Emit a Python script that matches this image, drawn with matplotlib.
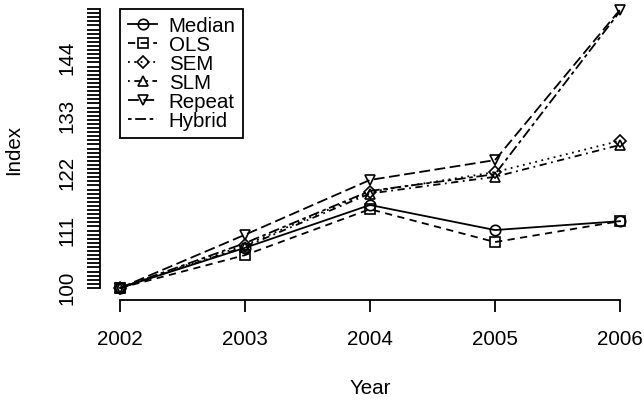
# Indices por metodo, 2002-2006
import matplotlib
matplotlib.use("Agg")
import matplotlib.pyplot as plt
import numpy as np

# Datos
years = [2002, 2003, 2004, 2005, 2006]
median = [100, 107.7, 115.9, 111.1, 112.8]
ols = [100, 106.3, 115.1, 108.8, 112.8]
sem = [100, 108.2, 118.4, 122.2, 128.2]
slm = [100, 107.9, 118.1, 121.3, 127.4]
repeat = [100, 110.2, 120.7, 124.5, 153.3]
hybrid = [100, 108.6, 118.6, 121.8, 153.0]

series_names = ["Median", "OLS", "SEM", "SLM", "Repeat", "Hybrid"]
ytick_labels = [100, 111, 122, 133, 144]

plt.rcParams["font.family"] = ["Liberation Sans", "DejaVu Sans"]
plt.rcParams["font.size"] = 14.8

fig = plt.figure(figsize=(6.44, 4.03), dpi=100)
ax = fig.add_axes([100 / 644, 103 / 403, 540 / 644, 300 / 403])

lw = 1.3
# estilos tipo R: lty 1..6 y pch 1, 0, 5, 2, 6
estilos = [
    ("-", "o", 7.5),
    ((0, (4, 3)), "s", 6.5),
    ((0, (1, 2.5)), "D", 6.0),
    ((0, (1, 2.5, 4, 2.5)), "^", 7.5),
    ((0, (6, 2.5)), "v", 7.5),
    ((0, (2, 2, 6, 2)), None, 0),
]
datos = [median, ols, sem, slm, repeat, hybrid]

for nombre, valores, (ls, mk, ms) in zip(series_names, datos, estilos):
    ax.plot(years, valores, color="black", linestyle=ls, linewidth=lw,
            marker=mk, markersize=ms, markerfacecolor="none",
            markeredgecolor="black", markeredgewidth=1.2,
            label=nombre, clip_on=False)

ax.set_xlim(2001.84, 2006.16)
ax.set_ylim(97.70, 155.17)

# Ejes estilo R (sin caja)
for lado in ["top", "right"]:
    ax.spines[lado].set_visible(False)
paso = 11 / 14
ytop = 100 + 68 * paso
ax.spines["left"].set_bounds(100, ytop)
ax.spines["bottom"].set_bounds(2002, 2006)
ax.spines["left"].set_linewidth(lw)
ax.spines["bottom"].set_linewidth(lw)

ax.set_xticks(years)
ax.set_xticklabels([str(a) for a in years])
ax.set_yticks(ytick_labels)
ax.set_yticklabels([str(v) for v in ytick_labels], rotation=90, va="center")
menores = [100 + k * paso for k in range(69) if k % 14 != 0]
ax.set_yticks(menores, minor=True)

ax.tick_params(axis="x", length=8.8, width=lw, pad=13.0)
ax.tick_params(axis="y", which="both", length=9.4, width=lw, pad=7.7)

ax.set_xlabel("Year")
ax.set_ylabel("Index")
ax.xaxis.set_label_coords(0.5, -88 / 300)
ax.xaxis.label.set_va("center")
ax.yaxis.set_label_coords(-86 / 540, 0.5)
ax.yaxis.label.set_va("center")

leg = ax.legend(loc="upper left", bbox_to_anchor=(120 / 644, 1 - 9 / 403),
                bbox_transform=fig.transFigure, borderaxespad=0,
                fancybox=False, framealpha=1, edgecolor="black",
                labelspacing=0.0, borderpad=0.37, handlelength=1.45,
                handletextpad=0.55, fontsize=14.8)
leg.get_frame().set_linewidth(lw)

fig.savefig("out.png", dpi=100)
